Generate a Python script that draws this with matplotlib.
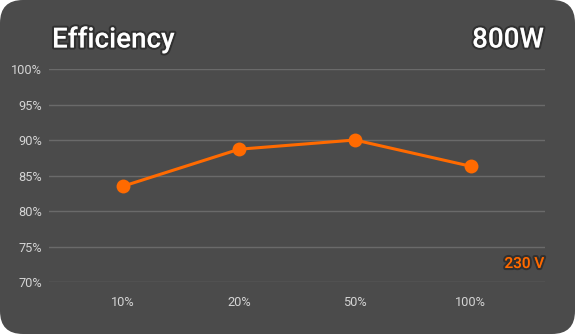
import matplotlib
matplotlib.use("Agg")
import matplotlib.pyplot as plt
from matplotlib.patches import FancyBboxPatch
import matplotlib.patheffects as pe

loads = ["10%", "20%", "50%", "100%"]
efficiency = [83.5, 88.7, 90.0, 86.3]
y_ticks = [70, 75, 80, 85, 90, 95, 100]
y_labels = ["70%", "75%", "80%", "85%", "90%", "95%", "100%"]
title = "Efficiency"
wattage = "800W"
voltage = "230 V"

BG = "#4b4b4b"
ORANGE = "#ff6a00"
GRID = "#6a6a6a"
TICK = "#d4d4d4"

plt.rcParams["font.family"] = ["Roboto", "DejaVu Sans"]

fig = plt.figure(figsize=(5.75, 3.34), dpi=100, facecolor="white")

# rounded card background
card = FancyBboxPatch((0.0, 0.0), 1.0, 1.0,
                      boxstyle="round,pad=0,rounding_size=0.04",
                      transform=fig.transFigure, facecolor=BG, edgecolor="none",
                      mutation_aspect=575 / 334, zorder=-10)
fig.patches.append(card)

ax = fig.add_axes([49 / 575, 1 - 282 / 334, (545 - 49) / 575, (282 - 69) / 334])
ax.set_zorder(1)
ax.set_facecolor("none")
for s in ax.spines.values():
    s.set_visible(False)

x = list(range(len(loads)))
ax.plot(x, efficiency, color=ORANGE, lw=2.2, marker="o", markersize=10,
        markeredgewidth=0, zorder=3)

ax.set_ylim(70, 100)
ax.set_xlim(-0.64, len(loads) - 1 + 0.64)
ax.set_yticks(y_ticks)
ax.set_yticklabels(y_labels)
ax.set_xticks(x)
ax.set_xticklabels(loads)
ax.grid(axis="y", color=GRID, lw=1)
ax.set_axisbelow(True)
ax.tick_params(axis="both", length=0, colors=TICK, labelsize=9.2)
ax.tick_params(axis="y", pad=5)
ax.tick_params(axis="x", pad=10)

glow = [pe.withStroke(linewidth=3, foreground=(0, 0, 0, 0.35))]

fig.text(52 / 575, 1 - 40 / 334, title, color="white", fontsize=20,
         fontweight="medium", va="center", ha="left", path_effects=glow)
fig.text(544 / 575, 1 - 40 / 334, wattage, color="white", fontsize=20,
         fontweight="medium", va="center", ha="right", path_effects=glow)
fig.text(544 / 575, 1 - 264 / 334, voltage, color=ORANGE, fontsize=11,
         fontweight="medium", va="center", ha="right", path_effects=glow)

fig.savefig("out.png", dpi=100, facecolor="white")
